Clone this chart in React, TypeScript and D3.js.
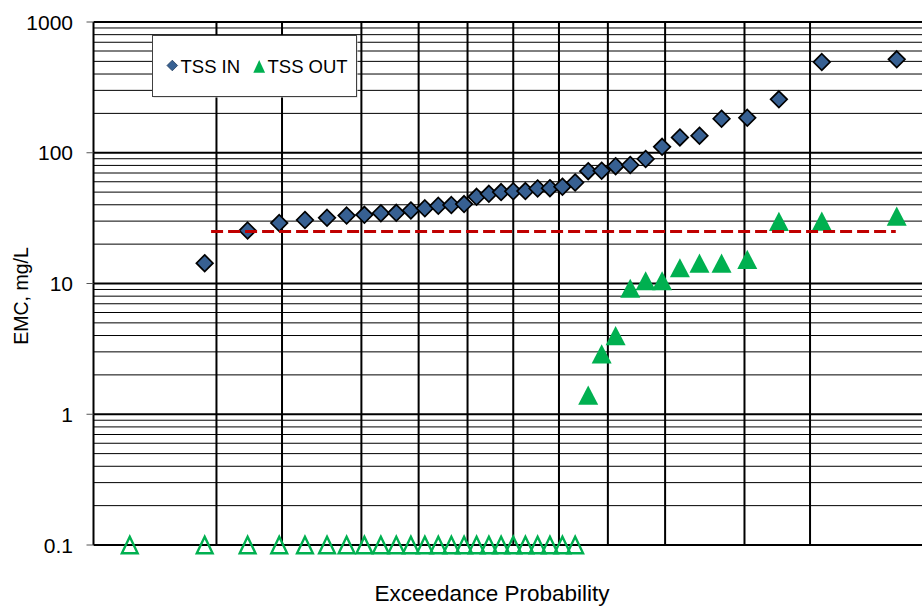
import React from "react";
import * as d3 from "d3";

// ---------------- data ----------------
const N_SAMPLES = 37; // number of ranked events
// TSS influent EMC (mg/L), ranked ascending; rank 1 has no influent value
const tssIn: (number | null)[] = [
  null, 14.3, 25.4, 29, 30.6, 31.8, 33.1, 33.5, 34.5, 34.7,
  36.2, 37.6, 39.3, 39.8, 40.5, 46, 48.5, 50, 50.7, 50.9,
  53.3, 53.6, 55, 59.2, 72.3, 72.9, 79, 80.6, 89.6, 111,
  131, 135, 182, 185, 256, 494, 518,
];
// TSS effluent EMC (mg/L), ranked ascending; "<0.1" = non-detect plotted at detection limit
const tssOut: (number | string)[] = [
  "<0.1", "<0.1", "<0.1", "<0.1", "<0.1", "<0.1", "<0.1", "<0.1", "<0.1", "<0.1",
  "<0.1", "<0.1", "<0.1", "<0.1", "<0.1", "<0.1", "<0.1", "<0.1", "<0.1", "<0.1",
  "<0.1", "<0.1", "<0.1", "<0.1",
  1.4, 2.9, 4.0, 9.2, 10.5, 10.5, 13.2, 14.3, 14.3, 15.3, 29.9, 30, 32.7,
];
const thresholdValue = 25; // mg/L
const thresholdProbs = [0.047, 0.983];
const probDomain = [0.01, 0.99];
const gridProbs = [0.05, 0.1, 0.2, 0.3, 0.4, 0.5, 0.6, 0.7, 0.8, 0.9, 0.95];
const yTicks = [0.1, 1, 10, 100, 1000];
const yTickLabels = ["0.1", "1", "10", "100", "1000"];
const legendLabels = ["TSS IN", "TSS OUT"];
const xTitle = "Exceedance Probability";
const yTitle = "EMC, mg/L";

// ---------------- helpers ----------------
function normInv(p: number): number {
  const a = [-3.969683028665376e1, 2.209460984245205e2, -2.759285104469687e2, 1.38357751867269e2, -3.066479806614716e1, 2.506628277459239];
  const b = [-5.447609879822406e1, 1.615858368580409e2, -1.556989798598866e2, 6.680131188771972e1, -1.328068155288572e1];
  const c = [-7.784894002430293e-3, -3.223964580411365e-1, -2.400758277161838, -2.549732539343734, 4.374664141464968, 2.938163982698783];
  const d = [7.784695709041462e-3, 3.224671290700398e-1, 2.445134137142996, 3.754408661907416];
  const pl = 0.02425;
  let q: number, r: number;
  if (p < pl) {
    q = Math.sqrt(-2 * Math.log(p));
    return (((((c[0] * q + c[1]) * q + c[2]) * q + c[3]) * q + c[4]) * q + c[5]) /
      ((((d[0] * q + d[1]) * q + d[2]) * q + d[3]) * q + 1);
  } else if (p <= 1 - pl) {
    q = p - 0.5;
    r = q * q;
    return ((((((a[0] * r + a[1]) * r + a[2]) * r + a[3]) * r + a[4]) * r + a[5]) * q) /
      (((((b[0] * r + b[1]) * r + b[2]) * r + b[3]) * r + b[4]) * r + 1);
  } else {
    q = Math.sqrt(-2 * Math.log(1 - p));
    return -(((((c[0] * q + c[1]) * q + c[2]) * q + c[3]) * q + c[4]) * q + c[5]) /
      ((((d[0] * q + d[1]) * q + d[2]) * q + d[3]) * q + 1);
  }
}
// Blom plotting position
const plotPos = (rank: number) => (rank - 0.375) / (N_SAMPLES + 0.25);

const W = 922;
const H = 607;
const M = { left: 93.5, right: 933, top: 22, bottom: 545 };
const FONT = "'Liberation Sans', Arial, sans-serif";
const BLUE = "#376092";
const GREEN = "#00B050";
const RED = "#C00000";

export default function App() {
  const x = d3
    .scaleLinear()
    .domain([normInv(probDomain[0]), normInv(probDomain[1])])
    .range([M.left, M.right]);
  const xp = (p: number) => x(normInv(p));
  const y = d3.scaleLog().domain([0.1, 1000]).range([M.bottom, M.top]);

  const minor: number[] = [];
  for (let k = 0; k < yTicks.length - 1; k++) {
    for (let m = 2; m <= 9; m++) minor.push(yTicks[k] * m);
  }

  const inPts = tssIn
    .map((v, i) => ({ v, rank: i + 1 }))
    .filter((d) => d.v !== null) as { v: number; rank: number }[];
  const outPts = tssOut.map((v, i) => {
    const nd = typeof v === "string";
    return { v: nd ? parseFloat((v as string).slice(1)) : (v as number), nd, rank: i + 1 };
  });

  const diamond = (r: number) => `M0,${-r}L${r},0L0,${r}L${-r},0Z`;
  const tri = (hw: number, hh: number) => `M0,${-hh}L${hw},${hh}L${-hw},${hh}Z`;

  const lineGen = d3
    .line<number>()
    .x((p) => xp(p))
    .y(() => y(thresholdValue));

  return (
    <svg
      width={W}
      height={H}
      style={{ position: "absolute", left: 0, top: 0, display: "block", background: "#fff" }}
      fontFamily={FONT}
    >
      <rect x={0} y={0} width={W} height={H} fill="#fff" />
      {/* minor horizontal grid */}
      {minor.map((v, i) => (
        <line key={"mn" + i} x1={M.left} x2={W} y1={y(v)} y2={y(v)} stroke="#000" strokeWidth={1} />
      ))}
      {/* major horizontal grid */}
      {yTicks.map((v, i) => (
        <line key={"mj" + i} x1={M.left} x2={W} y1={y(v)} y2={y(v)} stroke="#000" strokeWidth={2} />
      ))}
      {/* vertical grid */}
      {gridProbs.map((p, i) => (
        <line key={"vg" + i} x1={xp(p)} x2={xp(p)} y1={M.top} y2={M.bottom} stroke="#000" strokeWidth={2} />
      ))}
      {/* left axis */}
      <line x1={M.left} x2={M.left} y1={M.top} y2={M.bottom} stroke="#000" strokeWidth={2} />
      {/* y ticks */}
      {yTicks.map((v, i) => (
        <g key={"yt" + i}>
          <line x1={M.left - 7} x2={M.left} y1={y(v)} y2={y(v)} stroke="#555" strokeWidth={1} />
          <text x={73} y={y(v)} dy="0.36em" textAnchor="end" fontSize={21} fill="#000">
            {yTickLabels[i]}
          </text>
        </g>
      ))}

      {/* TSS IN diamonds */}
      {inPts.map((d, i) => (
        <path
          key={"in" + i}
          d={diamond(8.3)}
          transform={`translate(${xp(plotPos(d.rank))},${y(d.v)})`}
          fill={BLUE}
          stroke="#000"
          strokeWidth={1.7}
        />
      ))}
      {/* TSS OUT triangles */}
      {outPts.map((d, i) =>
        d.nd ? (
          <path
            key={"out" + i}
            d={tri(7.9, 8.3)}
            transform={`translate(${xp(plotPos(d.rank))},${y(d.v)})`}
            fill="none"
            stroke={GREEN}
            strokeWidth={2.4}
          />
        ) : (
          <path
            key={"out" + i}
            d={tri(10, 9.6)}
            transform={`translate(${xp(plotPos(d.rank))},${y(d.v)})`}
            fill={GREEN}
          />
        )
      )}
      {/* threshold line */}
      <path
        d={lineGen(thresholdProbs) || ""}
        fill="none"
        stroke={RED}
        strokeWidth={3}
        strokeDasharray="12,5"
      />

      {/* legend */}
      <rect x={153.5} y={36.5} width={204} height={61} fill="#d0d0d0" />
      <rect x={152.5} y={35.5} width={204} height={61} fill="#fff" stroke="#404040" strokeWidth={1} />
      <path d={diamond(5.3)} transform="translate(172.3,65.5)" fill={BLUE} stroke="#1f3a5a" strokeWidth={0.8} />
      <text x={180.5} y={72.7} fontSize={18.5} fill="#000">
        {legendLabels[0]}
      </text>
      <path d={tri(5.9, 6.3)} transform="translate(259.2,66.4)" fill={GREEN} />
      <text x={267.5} y={72.7} fontSize={18.5} fill="#000">
        {legendLabels[1]}
      </text>

      {/* axis titles */}
      <text transform="translate(28.3,296) rotate(-90)" textAnchor="middle" fontSize={19.5} fill="#000">
        {yTitle}
      </text>
      <text x={492} y={601} textAnchor="middle" fontSize={22.5} fill="#000">
        {xTitle}
      </text>
    </svg>
  );
}
